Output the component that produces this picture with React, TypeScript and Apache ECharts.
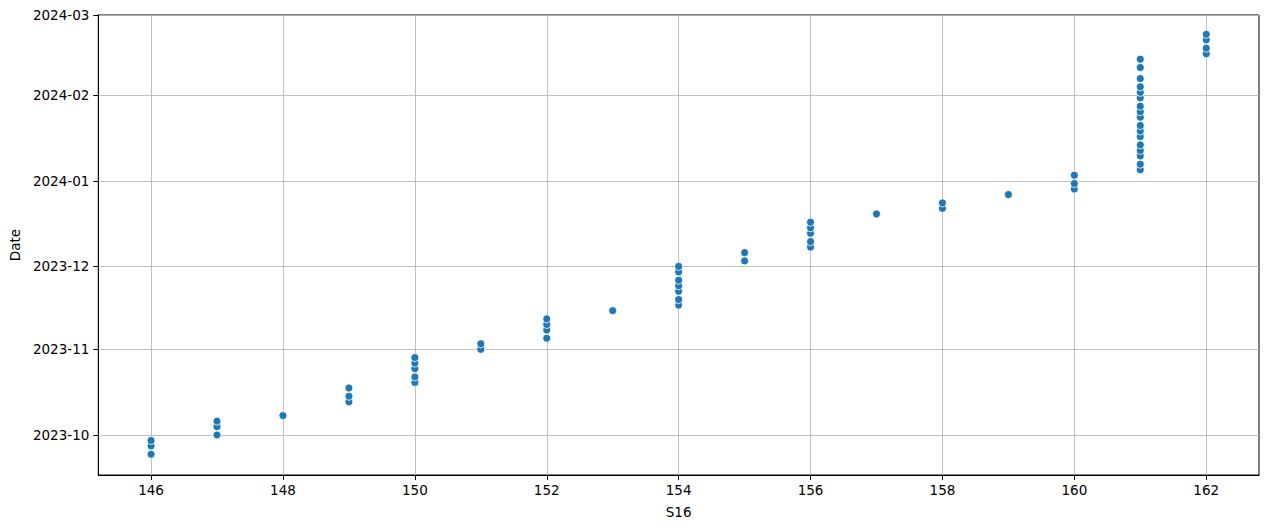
import React, { useEffect, useRef } from "react";
import * as echarts from "echarts";

const s16Values = [
  146, 146, 146,
  147, 147, 147,
  148,
  149, 149, 149,
  150, 150, 150, 150, 150,
  151, 151,
  152, 152, 152, 152,
  153,
  154, 154, 154, 154, 154, 154, 154,
  155, 155,
  156, 156, 156, 156, 156,
  157,
  158, 158,
  159,
  160, 160, 160,
  161, 161, 161, 161, 161, 161, 161, 161, 161, 161, 161, 161, 161, 161, 161, 161, 161,
  162, 162, 162, 162,
];

const dateValues = [
  "2023-09-24", "2023-09-27", "2023-09-29",
  "2023-10-01", "2023-10-04", "2023-10-06",
  "2023-10-08",
  "2023-10-13", "2023-10-15", "2023-10-18",
  "2023-10-20", "2023-10-22", "2023-10-25", "2023-10-27", "2023-10-29",
  "2023-11-01", "2023-11-03",
  "2023-11-05", "2023-11-08", "2023-11-10", "2023-11-12",
  "2023-11-15",
  "2023-11-17", "2023-11-19", "2023-11-22", "2023-11-24", "2023-11-26", "2023-11-29", "2023-12-01",
  "2023-12-03", "2023-12-06",
  "2023-12-08", "2023-12-10", "2023-12-13", "2023-12-15", "2023-12-17",
  "2023-12-20",
  "2023-12-22", "2023-12-24",
  "2023-12-27",
  "2023-12-29", "2023-12-31", "2024-01-03",
  "2024-01-05", "2024-01-07", "2024-01-10", "2024-01-12", "2024-01-14", "2024-01-17",
  "2024-01-19", "2024-01-21", "2024-01-24", "2024-01-26", "2024-01-28", "2024-01-31",
  "2024-02-02", "2024-02-04", "2024-02-07", "2024-02-11", "2024-02-14",
  "2024-02-16", "2024-02-18", "2024-02-21", "2024-02-23",
];

const xTicks = [146, 148, 150, 152, 154, 156, 158, 160, 162];

export default function App() {
  const ref = useRef<HTMLDivElement>(null);
  useEffect(() => {
    if (!ref.current) return;
    const chart = echarts.init(ref.current, undefined, { renderer: "svg" });
    const font = "DejaVu Sans";
    const data = s16Values.map((x, i) => [x, dateValues[i]]);
    chart.setOption({
      animation: false,
      textStyle: { fontFamily: font },
      grid: {
        left: 97,
        right: 10,
        top: 15,
        bottom: 54,
        show: true,
        borderColor: "#000",
        borderWidth: 1,
        containLabel: false,
      },
      xAxis: {
        type: "value",
        min: 145.2,
        max: 162.8,
        name: "S16",
        nameLocation: "middle",
        nameGap: 30,
        nameTextStyle: { color: "#000", fontSize: 13.5, fontFamily: font },
        axisLine: { show: true, onZero: false, lineStyle: { color: "#000", width: 1 } },
        axisTick: { show: true, length: 5, lineStyle: { color: "#000" }, customValues: xTicks },
        axisLabel: {
          color: "#000",
          fontSize: 13.5,
          fontFamily: font,
          margin: 8,
          customValues: xTicks,
        },
        splitLine: { show: true, lineStyle: { color: "#b0b0b0", width: 0.8 } },
      },
      yAxis: {
        type: "time",
        min: new Date(2023, 8, 16, 12).getTime(),
        max: new Date(2024, 2, 1).getTime(),
        minInterval: 27 * 86400000,
        name: "Date",
        nameLocation: "middle",
        nameGap: 74,
        nameRotate: 90,
        nameTextStyle: { color: "#000", fontSize: 13.5, fontFamily: font },
        axisLine: { show: true, lineStyle: { color: "#000", width: 1 } },
        axisTick: { show: true, length: 5, lineStyle: { color: "#000" } },
        axisLabel: {
          color: "#000",
          fontSize: 13.5,
          fontFamily: font,
          margin: 9,
          showMinLabel: false,
          showMaxLabel: true,
          formatter: (v: number) => {
            const d = new Date(v);
            return d.getFullYear() + "-" + String(d.getMonth() + 1).padStart(2, "0");
          },
        },
        splitLine: { show: true, lineStyle: { color: "#b0b0b0", width: 0.8 } },
      },
      series: [
        {
          type: "scatter",
          data,
          symbol: "circle",
          symbolSize: 8,
          itemStyle: { color: "#1f77b4", borderColor: "#ffffff", borderWidth: 0.8, opacity: 1 },
          emphasis: { disabled: true },
        },
      ],
    });
    return () => chart.dispose();
  }, []);
  return (
    <div
      ref={ref}
      style={{ position: "absolute", left: 0, top: 0, width: 1269, height: 529 }}
    />
  );
}
